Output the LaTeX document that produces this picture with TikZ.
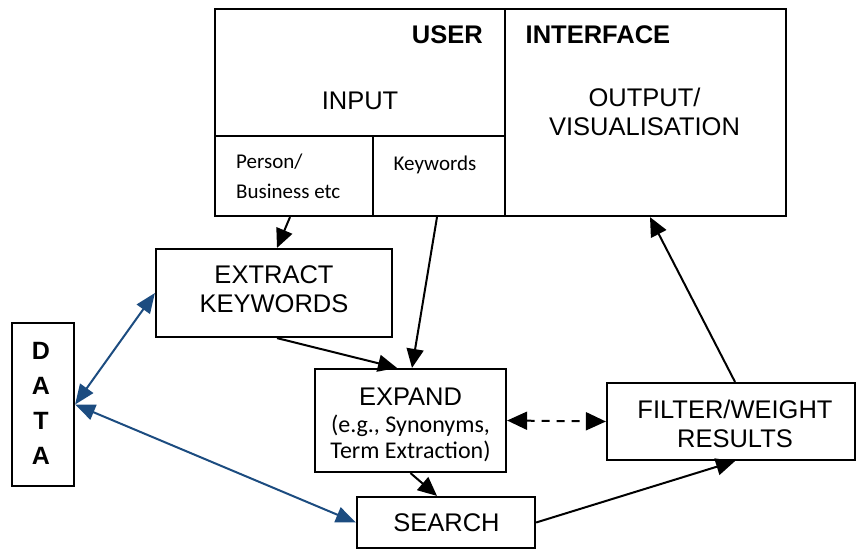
\documentclass[tikz,border=0pt]{standalone}
\usepackage{fontspec}
\setmainfont{Liberation Sans}
\newfontfamily\calibfont{Carlito}
\usetikzlibrary{arrows.meta}
\definecolor{dblue}{RGB}{28,76,128}
\begin{document}
\begin{tikzpicture}[x=1pt,y=-1pt,
  box/.style={draw, line width=2.2pt, inner sep=0pt},
  lbl/.style={inner sep=0pt, font=\fontsize{25.5}{29}\selectfont, align=center},
  blbl/.style={inner sep=0pt, font=\bfseries\fontsize{25.5}{29}\selectfont, align=center},
  sml/.style={inner sep=0pt, font=\calibfont\fontsize{21}{25}\selectfont},
  esml/.style={inner sep=0pt, font=\calibfont\fontsize{24}{25}\selectfont},
  conn/.style={line width=2pt, -{Triangle[length=19pt,width=17pt]}},
  dconn/.style={line width=2pt, dash pattern=on 8pt off 7pt, {Triangle[length=20pt,width=18pt]}-{Triangle[length=20pt,width=18pt]}},
  bconn/.style={line width=2pt, dblue, {Triangle[length=20pt,width=16pt]}-{Triangle[length=20pt,width=16pt]}}
]
\useasboundingbox (0,0) rectangle (856,549);
% boxes
\node[box, minimum width=290pt, minimum height=127pt] (input) at (360,72.5) {};
\node[box, minimum width=281pt, minimum height=207pt] (out) at (645.5,112.5) {};
\node[box, minimum width=158pt, minimum height=80pt] (person) at (294,176) {};
\node[box, minimum width=132pt, minimum height=80pt] (kw) at (439,176) {};
\node[box, minimum width=236pt, minimum height=88pt] (ext) at (274,293) {};
\node[box, minimum width=62pt, minimum height=163pt] (data) at (43,404.5) {};
\node[box, minimum width=191pt, minimum height=103pt] (exp) at (410.5,420.5) {};
\node[box, minimum width=248pt, minimum height=77pt] (flt) at (731,421.5) {};
\node[box, minimum width=178pt, minimum height=51pt] (srch) at (446,522.5) {};
% texts
\node[blbl, anchor=east] (userT) at (483,35) {USER};
\node[blbl, anchor=west] (ifT) at (525.5,35) {INTERFACE};
\node[lbl] (inT) at (360,101) {INPUT};
\node[lbl] (outT) at (644.5,111.5) {OUTPUT/\\VISUALISATION};
\node[sml, anchor=base west] (perT) at (236,168) {Person/};
\node[sml, anchor=base west] (busT) at (236,198) {Business etc};
\node[sml, anchor=base west] (kwT) at (393.5,170) {Keywords};
\node[lbl] (extT) at (274,289.5) {EXTRACT\\KEYWORDS};
\node[blbl, font=\bfseries\fontsize{25}{35}\selectfont] (dataT) at (41,403.5) {D\\A\\T\\A};
\node[lbl, anchor=base] (expT) at (410.5,405) {EXPAND};
\node[esml, anchor=base] (expT2) at (410.5,432) {(e.g., Synonyms,};
\node[esml, anchor=base] (expT3) at (410.5,458) {Term Extraction)};
\node[lbl] (fltT) at (735,424) {FILTER/WEIGHT\\RESULTS};
\node[lbl] (srchT) at (446.5,523) {SEARCH};
% connectors
\draw[conn] ([xshift=-4pt]person.south) -- ([xshift=3pt]ext.north);
\draw[conn] ([xshift=-2pt]kw.south) -- ([xshift=1.5pt]exp.north);
\draw[conn] ([xshift=3pt]ext.south) -- ([xshift=-13.5pt]exp.north);
\draw[conn] (exp.south) -- ([xshift=-9pt]srch.north);
\draw[conn] (srch.east) -- ([xshift=4pt]flt.south);
\draw[conn] ([xshift=4pt]flt.north) -- ([xshift=4.5pt]out.south);
\draw[dconn] (exp.east) -- (flt.west);
\draw[bconn] (data.east) -- (ext.west);
\draw[bconn] (data.east) -- (srch.west);
\end{tikzpicture}
\end{document}
